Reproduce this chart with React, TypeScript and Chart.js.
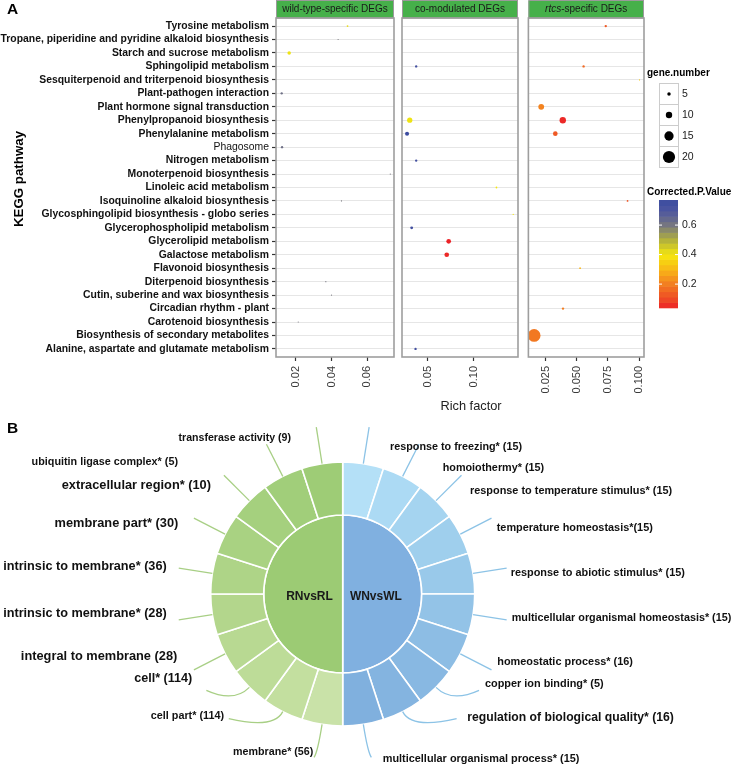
import React, { useEffect, useRef } from 'react';
import { Chart, registerables } from 'chart.js';
Chart.register(...registerables);

const FONT = '"Liberation Sans", Arial, Helvetica, sans-serif';

// ---------------- Panel A data ----------------
const pathways = [
  'Tyrosine metabolism',
  'Tropane, piperidine and pyridine alkaloid biosynthesis',
  'Starch and sucrose metabolism',
  'Sphingolipid metabolism',
  'Sesquiterpenoid and triterpenoid biosynthesis',
  'Plant-pathogen interaction',
  'Plant hormone signal transduction',
  'Phenylpropanoid biosynthesis',
  'Phenylalanine metabolism',
  'Phagosome',
  'Nitrogen metabolism',
  'Monoterpenoid biosynthesis',
  'Linoleic acid metabolism',
  'Isoquinoline alkaloid biosynthesis',
  'Glycosphingolipid biosynthesis - globo series',
  'Glycerophospholipid metabolism',
  'Glycerolipid metabolism',
  'Galactose metabolism',
  'Flavonoid biosynthesis',
  'Diterpenoid biosynthesis',
  'Cutin, suberine and wax biosynthesis',
  'Circadian rhythm - plant',
  'Carotenoid biosynthesis',
  'Biosynthesis of secondary metabolites',
  'Alanine, aspartate and glutamate metabolism',
];

const wtPathways = [
  'Tyrosine metabolism',
  'Tropane, piperidine and pyridine alkaloid biosynthesis',
  'Starch and sucrose metabolism',
  'Plant-pathogen interaction',
  'Phagosome',
  'Monoterpenoid biosynthesis',
  'Isoquinoline alkaloid biosynthesis',
  'Diterpenoid biosynthesis',
  'Cutin, suberine and wax biosynthesis',
  'Carotenoid biosynthesis',
];
const wtRichFactor = [0.049, 0.0437, 0.0162, 0.012, 0.0122, 0.073, 0.0456, 0.0368, 0.04, 0.0213];
const wtGeneNumber = [2, 1, 5, 3, 3, 1, 1, 1, 1, 1];
const wtPValue = [0.42, 0.6, 0.41, 0.62, 0.62, 0.6, 0.6, 0.6, 0.6, 0.6];

const coPathways = [
  'Sphingolipid metabolism',
  'Phenylpropanoid biosynthesis',
  'Phenylalanine metabolism',
  'Nitrogen metabolism',
  'Linoleic acid metabolism',
  'Glycosphingolipid biosynthesis - globo series',
  'Glycerophospholipid metabolism',
  'Glycerolipid metabolism',
  'Galactose metabolism',
  'Alanine, aspartate and glutamate metabolism',
];
const coRichFactor = [0.0374, 0.0304, 0.0275, 0.0374, 0.1246, 0.1428, 0.0325, 0.0727, 0.0706, 0.0367];
const coGeneNumber = [3, 8, 6, 3, 2, 1, 4, 7, 7, 3];
const coPValue = [0.74, 0.41, 0.77, 0.74, 0.4, 0.4, 0.74, 0.04, 0.05, 0.74];

const rtPathways = [
  'Tyrosine metabolism',
  'Sphingolipid metabolism',
  'Sesquiterpenoid and triterpenoid biosynthesis',
  'Plant hormone signal transduction',
  'Phenylpropanoid biosynthesis',
  'Phenylalanine metabolism',
  'Isoquinoline alkaloid biosynthesis',
  'Flavonoid biosynthesis',
  'Circadian rhythm - plant',
  'Biosynthesis of secondary metabolites',
];
const rtRichFactor = [0.0732, 0.0554, 0.1003, 0.0214, 0.0387, 0.0327, 0.0907, 0.0526, 0.0389, 0.0157];
const rtGeneNumber = [3, 3, 1, 9, 10, 7, 2, 2, 3, 21];
const rtPValue = [0.13, 0.16, 0.35, 0.21, 0.05, 0.13, 0.12, 0.3, 0.2, 0.19];

const wtTicks = [0.02, 0.04, 0.06];
const wtTickLabels = ['0.02', '0.04', '0.06'];
const coTicks = [0.05, 0.1];
const coTickLabels = ['0.05', '0.10'];
const rtTicks = [0.025, 0.05, 0.075, 0.1];
const rtTickLabels = ['0.025', '0.050', '0.075', '0.100'];

const geneLegend = [5, 10, 15, 20];
const pLegendTicks = [0.2, 0.4, 0.6];

// ---------------- Panel B data ----------------
const rnTerms = [
  'transferase activity (9)',
  'ubiquitin ligase complex* (5)',
  'extracellular region* (10)',
  'membrane part* (30)',
  'intrinsic to membrane* (36)',
  'intrinsic to membrane* (28)',
  'integral to membrane (28)',
  'cell* (114)',
  'cell part* (114)',
  'membrane* (56)',
];
const wnTerms = [
  'response to freezing* (15)',
  'homoiothermy* (15)',
  'response to temperature stimulus* (15)',
  'temperature homeostasis*(15)',
  'response to abiotic stimulus* (15)',
  'multicellular organismal homeostasis* (15)',
  'homeostatic process* (16)',
  'copper ion binding* (5)',
  'regulation of biological quality* (16)',
  'multicellular organismal process* (15)',
];
const rnShare = [1, 1, 1, 1, 1, 1, 1, 1, 1, 1];
const wnShare = [1, 1, 1, 1, 1, 1, 1, 1, 1, 1];
const groups = ['WNvsWL', 'RNvsRL'];
const groupShare = [1, 1];

// ---------------- styles ----------------
const pStops: [number, string][] = [
  [0.04, '#ec2227'], [0.1, '#ee4a25'], [0.2, '#f27d21'], [0.3, '#f9b617'],
  [0.4, '#f5e80e'], [0.5, '#b3b13c'], [0.6, '#77777f'], [0.7, '#4d56a0'], [0.77, '#3c4ca0'],
];
const rnColors = ['#9ecc76', '#a1ce7a', '#a5d07e', '#a9d282', '#aed487', '#b3d68c', '#b8d992', '#bddc98', '#c3df9f', '#c9e2a8'];
const wnColors = ['#b4e0f7', '#acdaf4', '#a5d4f0', '#9fcfed', '#99c9ea', '#93c3e7', '#8dbde4', '#88b8e2', '#84b4e0', '#80b0de'];
const innerColors = ['#80b0e0', '#9ccb74'];
// label layout: right side [xStart, y, size], left side [xEnd, y, size]
const wnLabelLayout = [
  [390, 446.7, 10.8], [442.7, 468, 10.8], [470, 490.7, 10.9], [496.7, 528.3, 10.9], [510.7, 572.7, 10.9],
  [511.7, 618.3, 10.8], [497.3, 662.3, 10.9], [485, 684, 10.9], [467.3, 717.7, 12.2], [382.7, 759.3, 10.9],
];
const rnLabelLayout = [
  [291, 438, 10.6], [178, 462, 10.8], [211, 485.7, 12.8], [178.3, 523.3, 12.8], [166.7, 566.7, 12.7],
  [166.7, 613.5, 12.7], [177.3, 656.7, 12.8], [192.3, 679, 12.6], [224, 716, 10.8], [313.3, 751.7, 10.7],
];
const leaderShapes: [number, number | null, number | null][] = [
  [37, null, null], [36, null, null], [36, null, null], [35, null, null], [34, null, null],
  [34, null, null], [35, null, null], [22, 43, 3], [20, 54, 7], [28, 8, 33],
];

function hexToRgb(h: string) {
  return [parseInt(h.slice(1, 3), 16), parseInt(h.slice(3, 5), 16), parseInt(h.slice(5, 7), 16)];
}
function colorOf(p: number) {
  if (p <= pStops[0][0]) return pStops[0][1];
  for (let i = 1; i < pStops.length; i++) {
    if (p <= pStops[i][0]) {
      const [a, ca] = pStops[i - 1];
      const [b, cb] = pStops[i];
      const t = (p - a) / (b - a);
      const A = hexToRgb(ca), B = hexToRgb(cb);
      const c = A.map((v, k) => Math.round(v + (B[k] - v) * t));
      return `rgb(${c[0]},${c[1]},${c[2]})`;
    }
  }
  return pStops[pStops.length - 1][1];
}
function sizeOf(n: number) {
  return 0.29 * n + 0.3;
}
function zeroPad(s: any) {
  s.paddingLeft = 0; s.paddingRight = 0; s.paddingTop = 0; s.paddingBottom = 0;
}

const allP = [...wtPValue, ...coPValue, ...rtPValue];
const pMin = Math.min(...allP);
const pMax = Math.max(...allP);

function facetPlugin(strip: { italic?: string; rest: string }, extra?: (chart: any) => void) {
  return {
    id: 'facetDecor',
    afterDraw(chart: any) {
      const { ctx, chartArea: a } = chart;
      ctx.save();
      ctx.fillStyle = '#46b04a';
      ctx.fillRect(a.left, 0.5, a.right - a.left, 17.5);
      ctx.strokeStyle = '#9a9a9a';
      ctx.lineWidth = 1;
      ctx.strokeRect(a.left + 0.5, 0.5, a.right - a.left - 1, 17.5);
      ctx.fillStyle = '#1a1a1a';
      ctx.textBaseline = 'middle';
      ctx.textAlign = 'left';
      const cx = (a.left + a.right) / 2;
      ctx.font = `italic 10px ${FONT}`;
      const w1 = strip.italic ? ctx.measureText(strip.italic).width : 0;
      ctx.font = `10px ${FONT}`;
      const w2 = ctx.measureText(strip.rest).width;
      let x = cx - (w1 + w2) / 2;
      if (strip.italic) {
        ctx.font = `italic 10px ${FONT}`;
        ctx.fillText(strip.italic, x, 9.5);
        x += w1;
      }
      ctx.font = `10px ${FONT}`;
      ctx.fillText(strip.rest, x, 9.5);
      ctx.strokeStyle = '#9e9e9e';
      ctx.lineWidth = 1.6;
      ctx.strokeRect(a.left, a.top, a.right - a.left, a.bottom - a.top);
      if (extra) extra(chart);
      ctx.restore();
    },
  };
}

function facetConfig(o: any) {
  const data = o.names.map((n: string, i: number) => ({ x: o.rich[i], y: pathways.indexOf(n) }));
  return {
    type: 'scatter',
    data: {
      datasets: [
        {
          data,
          pointRadius: (c: any) => sizeOf(o.genes[c.dataIndex] ?? 1),
          pointBackgroundColor: (c: any) => colorOf(o.pvals[c.dataIndex] ?? 0.5),
          pointBorderWidth: 0,
          pointBorderColor: 'rgba(0,0,0,0)',
          clip: 0,
        },
      ],
    },
    options: {
      animation: false,
      responsive: false,
      events: [],
      layout: { padding: o.padding },
      plugins: { legend: { display: false }, tooltip: { enabled: false } },
      scales: {
        x: {
          type: 'linear',
          min: o.xMin,
          max: o.xMax,
          afterBuildTicks: (s: any) => { s.ticks = o.ticks.map((v: number) => ({ value: v })); },
          ticks: {
            autoSkip: false, minRotation: 90, maxRotation: 90, padding: 5, color: '#3a3a3a',
            font: { family: FONT, size: 11 },
            callback: (_v: any, i: number) => o.tickLabels[i],
          },
          grid: { drawOnChartArea: false, drawTicks: true, tickLength: 4, tickColor: '#333', tickWidth: 1.2 },
          border: { display: false },
          afterFit: (s: any) => { s.height = 63; zeroPad(s); },
        },
        y: {
          type: 'linear',
          reverse: true,
          min: -0.6,
          max: pathways.length - 0.4,
          afterBuildTicks: (s: any) => { s.ticks = pathways.map((_p, i) => ({ value: i })); },
          ticks: {
            display: o.showY, autoSkip: false, padding: 3, color: '#111',
            font: (c: any) => ({ family: FONT, size: 10.4, weight: pathways[c.index] === 'Phagosome' ? 'normal' : 'bold' }),
            callback: (_v: any, i: number) => pathways[i],
          },
          grid: { color: '#e6e6e6', lineWidth: 1, drawTicks: o.showY, tickLength: 4, tickColor: '#333', tickWidth: 1.2 },
          border: { display: false },
          afterFit: (s: any) => { s.width = o.showY ? 276 : 0; zeroPad(s); },
        },
      },
    },
    plugins: [o.plugin],
  };
}

export default function App() {
  const c1 = useRef<HTMLCanvasElement>(null);
  const c2 = useRef<HTMLCanvasElement>(null);
  const c3 = useRef<HTMLCanvasElement>(null);
  const c4 = useRef<HTMLCanvasElement>(null);

  useEffect(() => {
    document.body.style.margin = '0';

    const p1 = facetPlugin({ rest: 'wild-type-specific DEGs' }, (chart) => {
      const ctx = chart.ctx;
      ctx.fillStyle = '#000';
      ctx.textAlign = 'center';
      ctx.textBaseline = 'middle';
      ctx.font = `bold 15.5px ${FONT}`;
      ctx.fillText('A', 12.5, 9.5);
      ctx.save();
      ctx.translate(19, 179);
      ctx.rotate(-Math.PI / 2);
      ctx.font = `bold 13.3px ${FONT}`;
      ctx.fillText('KEGG pathway', 0, 0);
      ctx.restore();
    });
    const p2 = facetPlugin({ rest: 'co-modulated DEGs' }, (chart) => {
      const ctx = chart.ctx;
      ctx.fillStyle = '#222';
      ctx.textAlign = 'center';
      ctx.textBaseline = 'middle';
      ctx.font = `12.8px ${FONT}`;
      ctx.fillText('Rich factor', 471 - 398, 406.7);
    });
    const p3 = facetPlugin({ italic: 'rtcs', rest: '-specific DEGs' }, (chart) => {
      const ctx = chart.ctx;
      const ox = 522;
      ctx.textAlign = 'left';
      ctx.textBaseline = 'middle';
      ctx.fillStyle = '#000';
      ctx.font = `bold 10px ${FONT}`;
      ctx.fillText('gene.number', 647 - ox, 73);
      geneLegend.forEach((g, i) => {
        const top = 83 + i * 21;
        ctx.fillStyle = '#fff';
        ctx.fillRect(659 - ox, top, 19, 21);
        ctx.strokeStyle = '#cccccc';
        ctx.lineWidth = 1;
        ctx.strokeRect(659.5 - ox, top + 0.5, 19, 21);
        ctx.fillStyle = '#000';
        ctx.beginPath();
        ctx.arc(669 - ox, top + 11, sizeOf(g), 0, Math.PI * 2);
        ctx.fill();
        ctx.fillStyle = '#1a1a1a';
        ctx.font = `10.5px ${FONT}`;
        ctx.fillText(String(g), 682 - ox, top + 11);
      });
      ctx.fillStyle = '#000';
      ctx.font = `bold 10px ${FONT}`;
      ctx.fillText('Corrected.P.Value', 647 - ox, 192);
      const barTop = 200, barBot = 307.7;
      const yOf = (p: number) => barBot - ((p - pMin) / (pMax - pMin)) * (barBot - barTop);
      const nb = 20;
      for (let k = 0; k < nb; k++) {
        const pa = pMin + ((pMax - pMin) * k) / nb;
        const pb = pMin + ((pMax - pMin) * (k + 1)) / nb;
        ctx.fillStyle = colorOf((pa + pb) / 2);
        ctx.fillRect(659 - ox, yOf(pb), 19, yOf(pa) - yOf(pb) + 0.6);
      }
      ctx.fillStyle = '#1a1a1a';
      ctx.font = `10.5px ${FONT}`;
      pLegendTicks.forEach((p) => {
        ctx.strokeStyle = '#fff';
        ctx.lineWidth = 1;
        ctx.beginPath();
        ctx.moveTo(659 - ox, yOf(p)); ctx.lineTo(662 - ox, yOf(p));
        ctx.moveTo(675 - ox, yOf(p)); ctx.lineTo(678 - ox, yOf(p));
        ctx.stroke();
        ctx.fillText(p.toFixed(1), 682 - ox, yOf(p));
      });
    });

    const cfg1 = facetConfig({
      names: wtPathways, rich: wtRichFactor, genes: wtGeneNumber, pvals: wtPValue,
      xMin: 0.0088, xMax: 0.0751, ticks: wtTicks, tickLabels: wtTickLabels, showY: true,
      padding: { left: 0, right: 2, top: 18, bottom: 0 }, plugin: p1,
    });
    const cfg2 = facetConfig({
      names: coPathways, rich: coRichFactor, genes: coGeneNumber, pvals: coPValue,
      xMin: 0.022, xMax: 0.148, ticks: coTicks, tickLabels: coTickLabels, showY: false,
      padding: { left: 2, right: 2, top: 18, bottom: 0 }, plugin: p2,
    });
    const cfg3 = facetConfig({
      names: rtPathways, rich: rtRichFactor, genes: rtGeneNumber, pvals: rtPValue,
      xMin: 0.0111, xMax: 0.1039, ticks: rtTicks, tickLabels: rtTickLabels, showY: false,
      padding: { left: 2, right: 90, top: 18, bottom: 0 }, plugin: p3,
    });

    const outerLabels = [...wnTerms, ...rnTerms.slice().reverse()];
    const outerValues = [...wnShare, ...rnShare.slice().reverse()];
    const outerColors = [...wnColors, ...rnColors.slice().reverse()];

    const ringPlugin = {
      id: 'ringLabels',
      afterDraw(chart: any) {
        const ctx = chart.ctx;
        const oy = 420;
        ctx.save();
        const meta = chart.getDatasetMeta(0);
        meta.data.forEach((arc: any, i: number) => {
          const { x, y, startAngle, endAngle, outerRadius } = arc.getProps(['x', 'y', 'startAngle', 'endAngle', 'outerRadius'], true);
          const mid = (startAngle + endAngle) / 2;
          const dx = Math.cos(mid), dy = Math.sin(mid);
          const side = dx >= 0 ? 1 : -1;
          const k = i < wnTerms.length ? i : outerLabels.length - 1 - i;
          const [L, tx, ty] = leaderShapes[k];
          const px = x + dx * outerRadius, py = y + dy * outerRadius;
          ctx.beginPath();
          ctx.moveTo(px, py);
          if (tx === null || ty === null) ctx.lineTo(px + dx * L, py + dy * L);
          else ctx.quadraticCurveTo(px + dx * L, py + dy * L, px + side * tx, py + ty);
          ctx.strokeStyle = side > 0 ? '#8cc3e6' : '#a8cf85';
          ctx.lineWidth = 1.3;
          ctx.stroke();
        });
        ctx.fillStyle = '#111';
        ctx.textBaseline = 'middle';
        wnTerms.forEach((t, k) => {
          const [lx, ly, fs] = wnLabelLayout[k];
          ctx.font = `bold ${fs}px ${FONT}`;
          ctx.textAlign = 'left';
          ctx.fillText(t, lx, ly - oy);
        });
        rnTerms.forEach((t, k) => {
          const [lx, ly, fs] = rnLabelLayout[k];
          ctx.font = `bold ${fs}px ${FONT}`;
          ctx.textAlign = 'right';
          ctx.fillText(t, lx, ly - oy);
        });
        const inner = chart.getDatasetMeta(1);
        inner.data.forEach((arc: any, i: number) => {
          const { x, y, startAngle, endAngle, outerRadius } = arc.getProps(['x', 'y', 'startAngle', 'endAngle', 'outerRadius'], true);
          const mid = (startAngle + endAngle) / 2;
          ctx.font = `bold 12px ${FONT}`;
          ctx.textAlign = 'center';
          ctx.fillStyle = '#1a1a1a';
          ctx.fillText(groups[i], x + Math.cos(mid) * outerRadius * 0.42, y + Math.sin(mid) * outerRadius * 0.42 + 2.5);
        });
        ctx.fillStyle = '#000';
        ctx.font = `bold 15.5px ${FONT}`;
        ctx.textAlign = 'center';
        ctx.fillText('B', 12.5, 429 - oy);
        ctx.restore();
      },
    };

    const cfg4: any = {
      type: 'doughnut',
      data: {
        labels: outerLabels,
        datasets: [
          { data: outerValues, backgroundColor: outerColors, borderColor: '#ffffff', borderWidth: 1.6, weight: 53, radius: 132 },
          { data: groupShare, backgroundColor: innerColors, borderColor: '#ffffff', borderWidth: 1.6, weight: 79, radius: 132 },
        ],
      },
      options: {
        animation: false,
        responsive: false,
        events: [],
        cutout: 0,
        radius: 132,
        layout: { padding: { left: 0, right: 48.6, top: 2, bottom: 0 } },
        plugins: { legend: { display: false }, tooltip: { enabled: false } },
      },
      plugins: [ringPlugin],
    };

    const charts = [
      new Chart(c1.current as any, cfg1 as any),
      new Chart(c2.current as any, cfg2 as any),
      new Chart(c3.current as any, cfg3 as any),
      new Chart(c4.current as any, cfg4),
    ];
    return () => charts.forEach((c) => c.destroy());
  }, []);

  return (
    <div style={{ position: 'relative', width: 734, height: 766, background: '#fff', overflow: 'hidden' }}>
      <canvas ref={c1} width={398} height={420} style={{ position: 'absolute', left: 0, top: 0 }} />
      <canvas ref={c2} width={124} height={420} style={{ position: 'absolute', left: 398, top: 0 }} />
      <canvas ref={c3} width={212} height={420} style={{ position: 'absolute', left: 522, top: 0 }} />
      <canvas ref={c4} width={734} height={346} style={{ position: 'absolute', left: 0, top: 420 }} />
    </div>
  );
}
